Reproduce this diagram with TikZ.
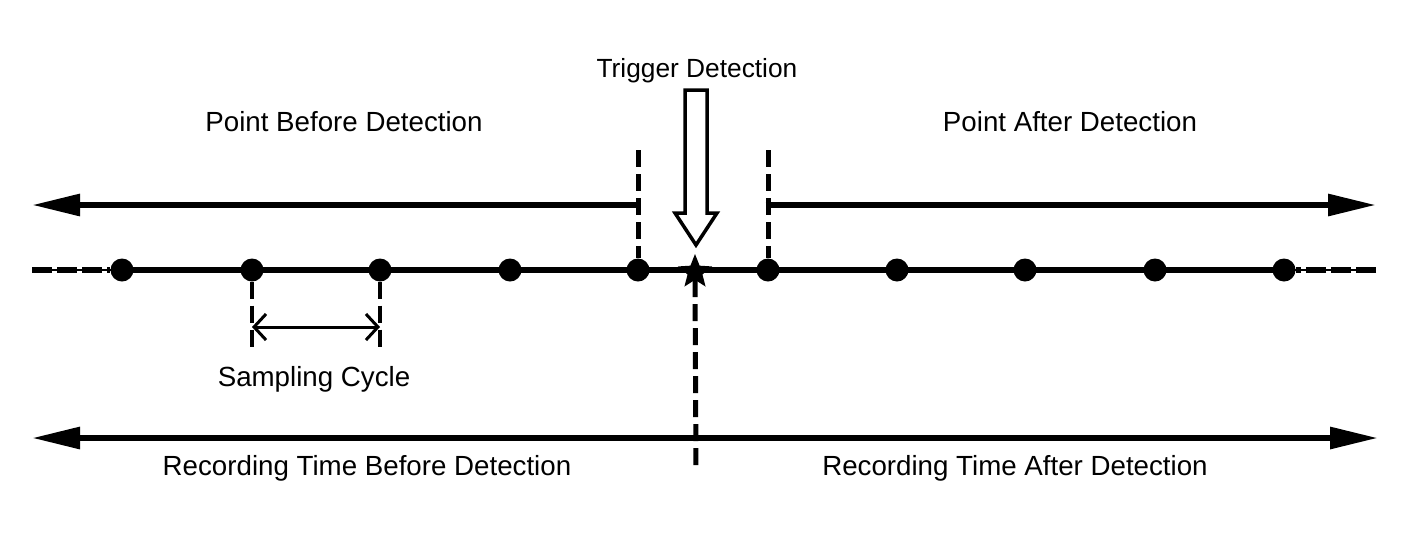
\documentclass[tikz,border=0pt]{standalone}
\usepackage{fontspec}
\setmainfont{Liberation Sans}
\usetikzlibrary{arrows.meta,shapes.geometric,backgrounds}
\begin{document}
\begin{tikzpicture}[x=1pt,y=-1pt,
  dot/.style={circle,fill=black,inner sep=0pt,minimum size=23pt},
  lbl/.style={font=\fontsize{27.7}{30}\selectfont,inner sep=0pt,anchor=base},
  thickln/.style={line width=6pt},
  vdash/.style={line width=5pt,dash pattern=on 17pt off 7pt},
  bigtip/.style={-{Triangle[length=48pt,width=21pt]}},
  bigtips/.style={{Triangle[length=48pt,width=21pt]}-{Triangle[length=48pt,width=21pt]}},
]
\useasboundingbox (0,0) rectangle (1421,555);
% sample points
\foreach \i/\x in {1/122,2/252,3/380,4/510,5/638,6/768,7/897,8/1025,9/1155,10/1284}
  \node[dot] (d\i) at (\x,270) {};
\node[star,star points=5,star point ratio=2.3,fill=black,inner sep=0pt,minimum size=36pt] (st) at (695,272) {};
% coordinates
\coordinate (L) at (32,270);
\coordinate (R) at (1376,270);
\coordinate (TL) at (32,205);
\coordinate (TR) at (1376,205);
\coordinate (c1) at (638,205);
\coordinate (c2) at (768,205);
\coordinate (v1) at (638,150);
\coordinate (v2) at (768,150);
\coordinate (BL) at (32,438);
\coordinate (BR) at (1378,438);
\coordinate (sb) at (696,470);
\coordinate (s2) at (252,352);
\coordinate (s3) at (380,352);
\coordinate (a2) at (252,327);
\coordinate (a3) at (380,327);
\begin{scope}[on background layer]
  \draw[thickln] (d1.center) -- (d10.center);
  \draw[line width=1.2pt] (L) -- (d1.center);
  \draw[line width=6pt,dash pattern=on 20pt off 5pt] (L) -- (d1.west);
  \draw[line width=1.2pt] (d10.center) -- (R);
  \draw[line width=6pt,dash pattern=on 20pt off 5pt] (R) -- (d10.east);
\end{scope}
% bracket arrows above
\draw[thickln,bigtip] ([xshift=2.5pt]c1) -- (TL);
\draw[thickln,bigtip] ([xshift=-2.5pt]c2) -- (TR);
\draw[vdash] (v1) -- (d5.north);
\draw[vdash] (v2) -- (d6.north);
% hollow trigger arrow
\node[lbl,font=\fontsize{26.3}{30}\selectfont] (trig) at (697,77) {Trigger Detection};
\draw[line width=3.5pt,fill=white,line join=miter]
  (685,90) -- (707,90) -- (707,213) -- (717,213) -- (696,245) -- (675,213) -- (685,213) -- cycle;
% vertical dashed through star
\draw[vdash] (st.south) -- (sb);
% sampling cycle
\draw[line width=4.5pt,dash pattern=on 17pt off 7pt] (d2.south) -- (s2);
\draw[line width=4.5pt,dash pattern=on 17pt off 7pt] (d3.south) -- (s3);
\draw[line width=3pt,{Straight Barb[length=12pt,width=26pt]}-{Straight Barb[length=12pt,width=26pt]}] (a2) -- (a3);
\node[lbl] (samp) at (314,386) {Sampling Cycle};
% bottom arrow
\draw[thickln,bigtips] (BL) -- (BR);
% labels
\node[lbl] (pb) at (344,131) {Point Before Detection};
\node[lbl] (pa) at (1070,131) {Point After Detection};
\node[lbl] (rb) at (367,475) {Recording Time Before Detection};
\node[lbl] (ra) at (1015,475) {Recording Time After Detection};
\end{tikzpicture}
\end{document}
